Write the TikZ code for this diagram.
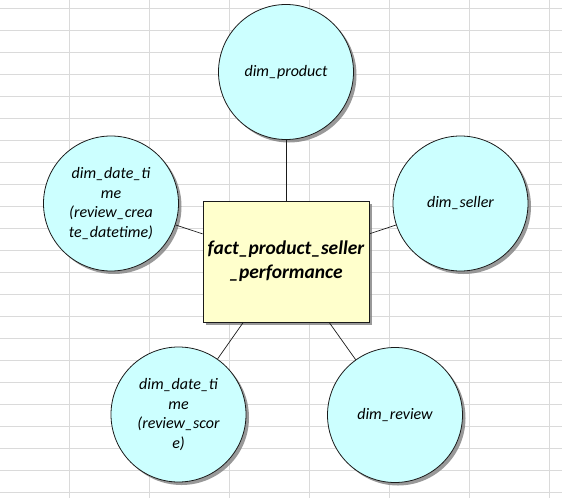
\documentclass[tikz,border=0pt]{standalone}
\usepackage{fontspec}
\setmainfont{Carlito}
\usetikzlibrary{shadows}
\definecolor{gridc}{HTML}{DADADA}
\definecolor{dimfill}{HTML}{CCFFFF}
\definecolor{factfill}{HTML}{FFFFCC}
\definecolor{edgec}{HTML}{1A1A1A}
\tikzset{
  dimnode/.style={circle, draw=edgec, line width=0.8pt, fill=dimfill, minimum size=135pt, inner sep=0pt,
    align=center, font=\itshape\fontsize{16}{19.6}\selectfont,
    drop shadow={shadow xshift=3pt, shadow yshift=-3pt, fill=black!50, opacity=0.8}},
  factnode/.style={rectangle, draw=edgec, line width=0.8pt, fill=factfill, minimum width=166pt, minimum height=121pt,
    inner sep=0pt, align=center, font=\bfseries\itshape\fontsize{19.5}{24}\selectfont,
    drop shadow={shadow xshift=3pt, shadow yshift=-3pt, fill=black!50, opacity=0.8}},
  link/.style={draw=edgec, line width=0.7pt}
}
\begin{document}
\begin{tikzpicture}[x=1pt, y=-1pt]
\useasboundingbox (0,0) rectangle (562,498);
\fill[white] (0,0) rectangle (562,498);
% spreadsheet grid
\foreach \gx in {69.7,149.6,229.5,309.4,389.3,469.2,549.1}
  \draw[gridc, line width=0.9pt] (\gx,0) -- (\gx,498);
\foreach \k in {0,...,22}
  \draw[gridc, line width=0.9pt] (0,8+22*\k) -- (562,8+22*\k);
% nodes
\node[factnode] (fact) at (286,261.5) {fact\_product\_seller\\\_performance};
\node[dimnode] (product) at (286,72) {dim\_product};
\node[dimnode] (dtcreate) at (111,203.5) {dim\_date\_ti\\me\\(review\_crea\\te\_datetime)};
\node[dimnode] (seller) at (460.5,203.5) {dim\_seller};
\node[dimnode] (dtscore) at (178.5,414.5) {dim\_date\_ti\\me\\(review\_scor\\e)};
\node[dimnode] (review) at (395,415) {dim\_review};
% connectors
\draw[link] (product) -- (fact);
\draw[link] (dtcreate) -- (fact);
\draw[link] (seller) -- (fact);
\draw[link] (dtscore) -- (fact);
\draw[link] (review) -- (fact);
\end{tikzpicture}
\end{document}
